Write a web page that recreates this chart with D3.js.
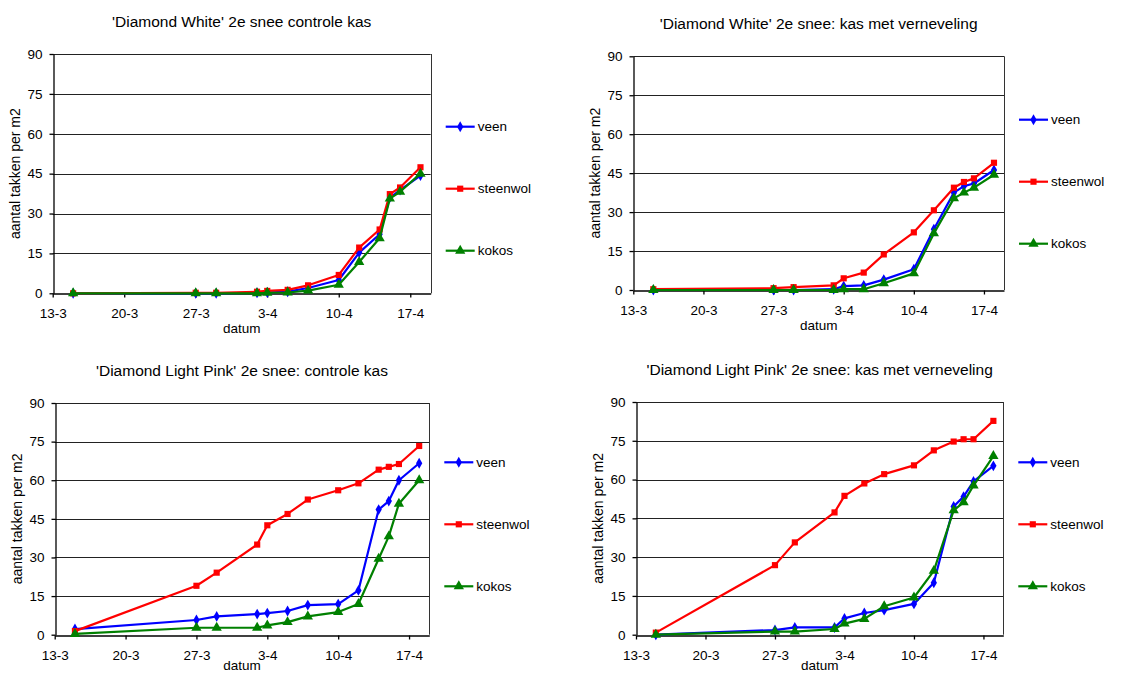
<!DOCTYPE html>
<html>
<head>
<meta charset="utf-8">
<script src="https://cdn.jsdelivr.net/npm/d3@7"></script>
<style>
  body { margin: 0; background: #fff; }
  svg { display: block; font-family: "Liberation Sans", Arial, sans-serif; }
</style>
</head>
<body>
<div id="chart"></div>
<script>
var dates = ["15-3", "27-3", "29-3", "2-4", "3-4", "5-4", "7-4", "10-4", "12-4", "14-4", "15-4", "16-4", "18-4"];
var tickDates = ["13-3", "20-3", "27-3", "3-4", "10-4", "17-4"];
var yTicks = [0, 15, 30, 45, 60, 75, 90];
var seriesNames = ["veen", "steenwol", "kokos"];

var titles = [
    "'Diamond White' 2e snee controle kas",
    "'Diamond White' 2e snee: kas met verneveling",
    "'Diamond Light Pink' 2e snee: controle kas",
    "'Diamond Light Pink' 2e snee: kas met verneveling"
];

var whiteControlVeen = [0, 0, 0, 0.2, 0.3, 0.6, 2, 5, 15.3, 22.2, 36, 38.8, 44.3];
var whiteControlSteenwol = [0, 0.2, 0.2, 0.6, 0.9, 1.3, 3, 6.9, 17.2, 24, 37.3, 39.8, 47.4];
var whiteControlKokos = [0, 0, 0, 0, 0.2, 0.3, 1, 3.2, 11.8, 20.7, 35.6, 38.2, 45];

var whiteMistVeen = [0, 0, 0, 0.3, 1.5, 1.8, 4, 8, 23.4, 37.5, 40, 41, 46.2];
var whiteMistSteenwol = [0.3, 0.7, 1.1, 1.8, 4.5, 6.7, 13.7, 22.2, 30.7, 39.4, 41.6, 43, 49];
var whiteMistKokos = [0, 0, 0, 0, 0.3, 0.3, 2.6, 6.4, 21.8, 35.3, 37.5, 39.4, 44.4];

var pinkControlVeen = [2.2, 5.7, 7.1, 8, 8.4, 9.2, 11.5, 11.9, 17.2, 48.6, 51.9, 60, 66.6];
var pinkControlSteenwol = [1.4, 19, 24.1, 35, 42.5, 46.9, 52.5, 56.1, 58.8, 64.1, 65.2, 66.3, 73.3];
var pinkControlKokos = [0.3, 2.7, 2.7, 2.7, 3.6, 4.9, 7.1, 8.8, 11.9, 29.5, 38.2, 50.9, 60];

var pinkMistVeen = [0, 1.8, 2.8, 2.8, 6.3, 8.4, 9.5, 11.9, 20.1, 49.6, 53.4, 59.3, 65.3];
var pinkMistSteenwol = [0.8, 26.9, 35.7, 47.3, 53.7, 58.5, 62.1, 65.5, 71.3, 74.7, 75.6, 75.6, 82.7];
var pinkMistKokos = [0, 1.2, 1.2, 2.2, 4.3, 6.1, 11, 14.4, 24.7, 48.1, 51.2, 57.7, 69.1];

var panelSeries = [
    [whiteControlVeen, whiteControlSteenwol, whiteControlKokos],
    [whiteMistVeen, whiteMistSteenwol, whiteMistKokos],
    [pinkControlVeen, pinkControlSteenwol, pinkControlKokos],
    [pinkMistVeen, pinkMistSteenwol, pinkMistKokos]
];

var colors = ["#0000ff", "#ff0000", "#008000"];
var symbols = [d3.symbolDiamond, d3.symbolSquare, d3.symbolTriangle];
var symbolSizes = [34, 38, 46];

// plot boxes in page pixels: left, top, right, bottom, legend middle
var boxes = [
    [52.7, 54, 430.7, 293.3, 188.7],
    [633.3, 56.3, 1004, 290, 181.7],
    [54.7, 403, 429.3, 634.7, 524.3],
    [636, 402, 1003.3, 634.7, 524.3]
];

var parseDate = d3.timeParse("%d-%m"),
    fmtDate = d3.timeFormat("%-d-%-m");

var svg = d3.select("#chart").append("svg")
    .attr("width", 1147)
    .attr("height", 676);

svg.append("rect")
    .attr("width", 1147)
    .attr("height", 676)
    .attr("fill", "#fff");

function drawPanel(i) {
    var b = boxes[i],
        left = b[0], top = b[1], right = b[2], bottom = b[3];

    var x = d3.scaleTime()
        .domain([parseDate("13-3"), parseDate("19-4")])
        .range([left, right]);

    var y = d3.scaleLinear()
        .domain([0, 90])
        .range([bottom, top]);

    var g = svg.append("g");

    g.append("text")
        .attr("x", (left + right) / 2)
        .attr("y", top - 27)
        .attr("text-anchor", "middle")
        .style("font-size", "15.5px")
        .text(titles[i]);

    g.selectAll(".grid")
        .data(yTicks.slice(1))
        .enter().append("line")
        .attr("x1", left)
        .attr("x2", right)
        .attr("y1", function (d) { return Math.round(y(d)) + 0.5; })
        .attr("y2", function (d) { return Math.round(y(d)) + 0.5; })
        .attr("stroke", "#222")
        .attr("stroke-width", 1);

    g.append("line")
        .attr("x1", Math.round(right) + 0.5)
        .attr("x2", Math.round(right) + 0.5)
        .attr("y1", top)
        .attr("y2", bottom)
        .attr("stroke", "#333");

    var xAxis = d3.axisBottom(x)
        .tickValues(tickDates.map(parseDate))
        .tickFormat(fmtDate)
        .tickSize(4)
        .tickSizeOuter(0)
        .tickPadding(11);

    var yAxis = d3.axisLeft(y)
        .tickValues(yTicks)
        .tickSize(4)
        .tickSizeOuter(0)
        .tickPadding(7);

    var gx = g.append("g")
        .attr("transform", "translate(0," + (Math.round(bottom) + 0.5) + ")")
        .call(xAxis);

    var gy = g.append("g")
        .attr("transform", "translate(" + (Math.round(left) + 0.5) + ",0)")
        .call(yAxis);

    [gx, gy].forEach(function (a) {
        a.selectAll("path, line").attr("stroke", "#000").attr("stroke-width", 1.3);
        a.selectAll("text")
            .attr("fill", "#000")
            .style("font-size", "13.5px")
            .style("font-family", "'Liberation Sans', Arial, sans-serif");
    });

    // keep the bottom row's axis title inside the page
    g.append("text")
        .attr("x", (left + right) / 2)
        .attr("y", Math.min(bottom + 40, 670))
        .attr("text-anchor", "middle")
        .style("font-size", "13.5px")
        .text("datum");

    g.append("text")
        .attr("transform", "translate(" + (left - 33) + "," + ((top + bottom) / 2) + ") rotate(-90)")
        .attr("text-anchor", "middle")
        .style("font-size", "14px")
        .text("aantal takken per m2");

    var line = d3.line()
        .x(function (d, j) { return x(parseDate(dates[j])); })
        .y(function (d) { return y(d); });

    panelSeries[i].forEach(function (values, s) {
        g.append("path")
            .datum(values)
            .attr("fill", "none")
            .attr("stroke", colors[s])
            .attr("stroke-width", 2.2)
            .attr("stroke-linejoin", "round")
            .attr("d", line);

        g.selectAll(".m" + s)
            .data(values)
            .enter().append("path")
            .attr("class", "m" + s)
            .attr("transform", function (d, j) {
                return "translate(" + x(parseDate(dates[j])) + "," + y(d) + ")";
            })
            .attr("d", d3.symbol().type(symbols[s]).size(symbolSizes[s]))
            .attr("fill", colors[s]);
    });

    var legend = g.selectAll(".legend")
        .data(seriesNames)
        .enter().append("g")
        .attr("transform", function (d, s) {
            return "translate(" + (right + 15) + "," + (b[4] + (s - 1) * 62) + ")";
        });

    legend.append("line")
        .attr("x1", 0)
        .attr("x2", 29)
        .attr("stroke", function (d, s) { return colors[s]; })
        .attr("stroke-width", 2.2);

    legend.append("path")
        .attr("transform", "translate(14.5,0)")
        .attr("d", function (d, s) { return d3.symbol().type(symbols[s]).size(symbolSizes[s])(); })
        .attr("fill", function (d, s) { return colors[s]; });

    legend.append("text")
        .attr("x", 32)
        .attr("dy", "0.35em")
        .style("font-size", "13.5px")
        .text(function (d) { return d; });
}

for (var i = 0; i < 4; i++) drawPanel(i);
</script>
</body>
</html>
